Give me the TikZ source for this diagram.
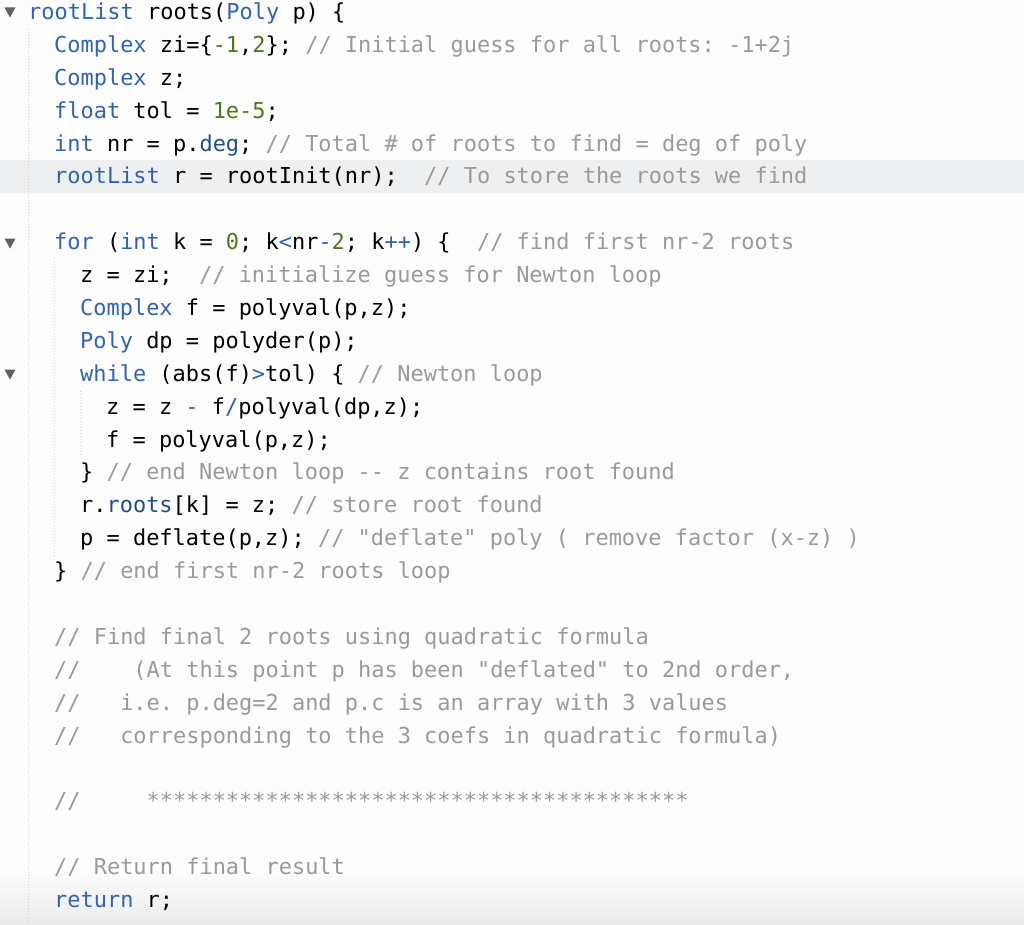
\documentclass[tikz,border=0pt]{standalone}
\usepackage{fontspec}
\setmonofont{DejaVu Sans Mono}
\definecolor{kwc}{HTML}{2F63B5}
\definecolor{prc}{HTML}{1F4E8C}
\definecolor{numc}{HTML}{4D7A16}
\definecolor{cmc}{HTML}{9A9A9A}
\definecolor{bgc}{HTML}{FDFDFD}
\definecolor{hlc}{HTML}{EEEFF1}
\definecolor{guidec}{HTML}{CFCFCF}
\newcommand{\kw}[1]{\textcolor{kwc}{#1}}
\newcommand{\pr}[1]{\textcolor{prc}{#1}}
\newcommand{\nm}[1]{\textcolor{numc}{#1}}
\newcommand{\cm}[1]{\textcolor{cmc}{#1}}
\tikzset{
  code/.style={anchor=base west,inner sep=0pt,font=\ttfamily\fontsize{21.95}{26}\selectfont,text=black},
  guide/.style={draw=guidec,line width=0.8pt,dash pattern=on 1pt off 2pt},
  foldmark/.style={fill=black!62,draw=none}
}
\begin{document}
\begin{tikzpicture}[x=1pt,y=-1pt]
\fill[bgc] (0,0) rectangle (1024,925);
\useasboundingbox (0,0) rectangle (1024,925);
\shade[top color=bgc,bottom color=black!8] (0,870) rectangle (1024,925);
\fill[hlc] (0,160) rectangle (1024,193.5);
% indent guides
\draw[guide] (28,29) -- (28,925);
\draw[guide] (54,258) -- (54,556);
\draw[guide] (80,391) -- (80,457);
% fold markers
\foreach \c in {12,243,374}{
  \fill[foldmark] (4.5,\c-4.5) -- (15.5,\c-4.5) -- (10,\c+5.5) -- cycle;
}
\def\LH{32.89}
\newcommand{\cl}[3]{\node[code] (l#1) at ({28+13*#2},{12+\LH*#1+7.5}) {#3};}
\cl{0}{0}{\kw{rootList} roots(\kw{Poly} p) \{}
\cl{1}{2}{\kw{Complex} zi=\{\nm{-1},\nm{2}\}; \cm{// Initial guess for all roots: -1+2j}}
\cl{2}{2}{\kw{Complex} z;}
\cl{3}{2}{\kw{float} tol = \nm{1e-5};}
\cl{4}{2}{\kw{int} nr = p.\pr{deg}; \cm{// Total \# of roots to find = deg of poly}}
\cl{5}{2}{\kw{rootList} r = rootInit(nr);\ \ \cm{// To store the roots we find}}
\cl{7}{2}{\kw{for} (\kw{int} k = \nm{0}; k\kw{<}nr\kw{-}\nm{2}; k\kw{++}) \{\ \ \cm{// find first nr-2 roots}}
\cl{8}{4}{z = zi;\ \ \cm{// initialize guess for Newton loop}}
\cl{9}{4}{\kw{Complex} f = polyval(p,z);}
\cl{10}{4}{\kw{Poly} dp = polyder(p);}
\cl{11}{4}{\kw{while} (abs(f)\kw{>}tol) \{ \cm{// Newton loop}}
\cl{12}{6}{z = z \kw{-} f\kw{/}polyval(dp,z);}
\cl{13}{6}{f = polyval(p,z);}
\cl{14}{4}{\} \cm{// end Newton loop -{}- z contains root found}}
\cl{15}{4}{r.\pr{roots}[k] = z; \cm{// store root found}}
\cl{16}{4}{p = deflate(p,z); \cm{// "deflate" poly ( remove factor (x-z) )}}
\cl{17}{2}{\} \cm{// end first nr-2 roots loop}}
\cl{19}{2}{\cm{// Find final 2 roots using quadratic formula}}
\cl{20}{2}{\cm{//\ \ \ \ (At this point p has been "deflated" to 2nd order,}}
\cl{21}{2}{\cm{//\ \ \ i.e. p.deg=2 and p.c is an array with 3 values}}
\cl{22}{2}{\cm{//\ \ \ corresponding to the 3 coefs in quadratic formula)}}
\cl{24}{2}{\cm{//\ \ \ \ \ *****************************************}}
\cl{26}{2}{\cm{// Return final result}}
\cl{27}{2}{\kw{return} r;}
\end{tikzpicture}
\end{document}
